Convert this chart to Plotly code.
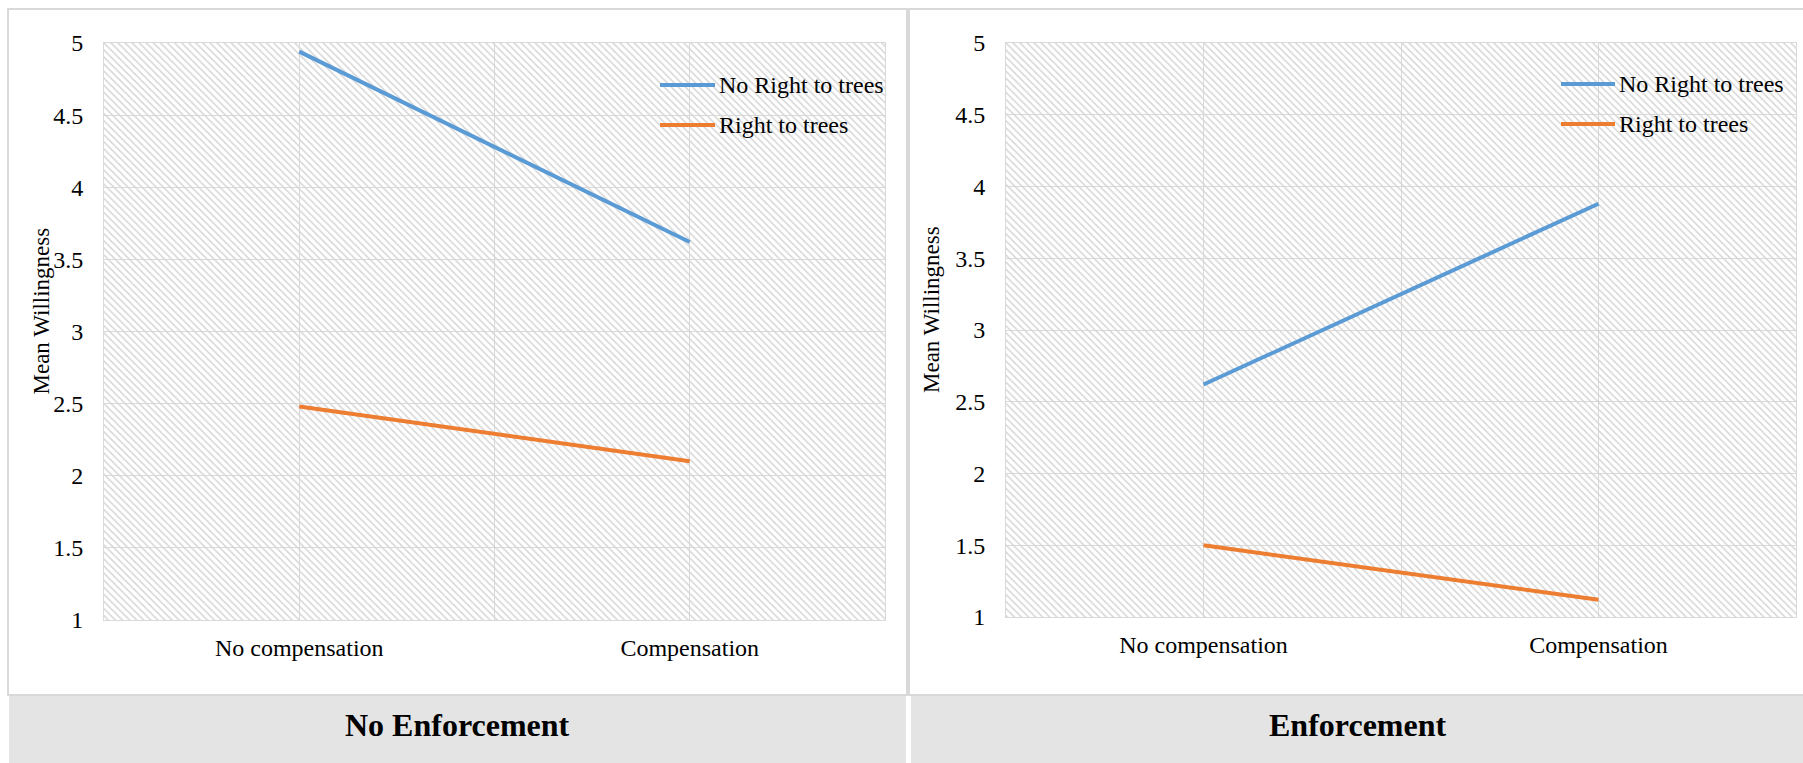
import plotly.graph_objects as go

W, H = 1803, 763

# ---- data -------------------------------------------------------------
CATEGORIES = ["No compensation", "Compensation"]
SERIES = ["No Right to trees", "Right to trees"]
PANELS = ["No Enforcement", "Enforcement"]

NO_ENF_NO_RIGHT = [4.94, 3.62]
NO_ENF_RIGHT = [2.48, 2.10]
ENF_NO_RIGHT = [2.62, 3.88]
ENF_RIGHT = [1.50, 1.12]

Y_TICKS = [1, 1.5, 2, 2.5, 3, 3.5, 4, 4.5, 5]
Y_TITLE = "Mean Willingness"

PANEL_VALUES = [
    [NO_ENF_NO_RIGHT, NO_ENF_RIGHT],
    [ENF_NO_RIGHT, ENF_RIGHT],
]

# ---- style ------------------------------------------------------------
COLORS = ["#5B9BD5", "#ED7D31"]
FONT = "Liberation Serif"
GRID = "#d9d9d9"
BAND = "#e4e4e4"

# pixel boxes of the two plot areas and their surroundings
PLOTS = [dict(x0=104, x1=885, y0=43, y1=620), dict(x0=1006, x1=1796, y0=43, y1=617)]
FRAMES = [dict(x0=8, x1=907, y0=9, y1=695), dict(x0=909, x1=1812, y0=9, y1=695)]
BANDS = [dict(x0=9, x1=906, y0=696, y1=770), dict(x0=911, x1=1810, y0=696, y1=770)]
LEGENDS = [dict(x0=660, x1=715, rows=[85, 125]), dict(x0=1561, x1=1615, rows=[84, 124])]
YTITLE_X = [41, 931]
BAND_TEXT_Y = 725


def px(x):
    return x / W


def py(y):
    return 1 - y / H


X_RANGE = [-0.5, len(CATEGORIES) - 0.5]
Y_RANGE = [Y_TICKS[0], Y_TICKS[-1]]
X_POS = list(range(len(CATEGORIES)))
X_TICKVALS = [X_RANGE[0] + 0.5 * k for k in range(2 * len(CATEGORIES) + 1)]
X_TICKTEXT = [CATEGORIES[int(v)] if float(v).is_integer() and v >= 0 else "" for v in X_TICKVALS]

fig = go.Figure()
shapes = []
annotations = []

for p, values in enumerate(PANEL_VALUES):
    suffix = "" if p == 0 else str(p + 1)
    xa, ya = "x" + suffix, "y" + suffix

    # hatched plot-area background
    fig.add_trace(go.Scatter(
        x=[X_RANGE[0], X_RANGE[1], X_RANGE[1], X_RANGE[0], X_RANGE[0]],
        y=[Y_RANGE[0], Y_RANGE[0], Y_RANGE[1], Y_RANGE[1], Y_RANGE[0]],
        xaxis=xa, yaxis=ya,
        mode="lines", line=dict(width=0), fill="toself",
        fillcolor="rgba(0,0,0,0)",
        fillpattern=dict(shape="\\", fgcolor="#d6d6d6", bgcolor="rgba(0,0,0,0)",
                         size=5, solidity=0.3, fillmode="replace"),
        hoverinfo="skip", showlegend=False,
    ))

    for s, series_vals in enumerate(values):
        fig.add_trace(go.Scatter(
            x=X_POS, y=series_vals, xaxis=xa, yaxis=ya,
            mode="lines", name=SERIES[s],
            line=dict(color=COLORS[s], width=4),
            showlegend=False,
        ))

    box = PLOTS[p]
    axis_common = dict(showgrid=True, gridcolor=GRID, gridwidth=1,
                       showline=True, linecolor=GRID, linewidth=1, mirror=True,
                       zeroline=False, ticks="", automargin=False,
                       tickfont=dict(family=FONT, size=24, color="black"))
    fig.update_layout(**{
        "xaxis" + suffix: dict(domain=[px(box["x0"]), px(box["x1"])], anchor=ya,
                               range=X_RANGE, tickmode="array",
                               tickvals=X_TICKVALS, ticktext=X_TICKTEXT,
                               ticklabelstandoff=6, **axis_common),
        "yaxis" + suffix: dict(domain=[py(box["y1"]), py(box["y0"])], anchor=xa,
                               range=Y_RANGE, tickmode="array", tickvals=Y_TICKS,
                               ticklabelstandoff=15, **axis_common),
    })

    # panel frame and caption band
    f = FRAMES[p]
    shapes.append(dict(type="rect", xref="paper", yref="paper", layer="below",
                       x0=px(f["x0"]), x1=px(f["x1"]), y0=py(f["y1"]), y1=py(f["y0"]),
                       line=dict(color=GRID, width=2), fillcolor="white"))
    b = BANDS[p]
    shapes.append(dict(type="rect", xref="paper", yref="paper", layer="below",
                       x0=px(b["x0"]), x1=px(b["x1"]), y0=py(b["y1"]), y1=py(b["y0"]),
                       line=dict(width=0), fillcolor=BAND))
    annotations.append(dict(xref="paper", yref="paper",
                            x=px((b["x0"] + min(b["x1"], W)) / 2), y=py(BAND_TEXT_Y),
                            text="<b>%s</b>" % PANELS[p], showarrow=False,
                            xanchor="center", yanchor="middle",
                            font=dict(family=FONT, size=32, color="black")))

    # y-axis title
    annotations.append(dict(xref="paper", yref="paper",
                            x=px(YTITLE_X[p]), y=py((box["y0"] + box["y1"]) / 2 - 20),
                            text=Y_TITLE, textangle=-90, showarrow=False,
                            xanchor="center", yanchor="middle",
                            font=dict(family=FONT, size=23, color="black")))

    # legend entries
    lg = LEGENDS[p]
    for s, name in enumerate(SERIES):
        yrow = py(lg["rows"][s])
        shapes.append(dict(type="line", xref="paper", yref="paper",
                           x0=px(lg["x0"]), x1=px(lg["x1"]), y0=yrow, y1=yrow,
                           line=dict(color=COLORS[s], width=4)))
        annotations.append(dict(xref="paper", yref="paper",
                                x=px(lg["x1"] + 2), y=yrow, text=name,
                                showarrow=False, xanchor="left", yanchor="middle",
                                font=dict(family=FONT, size=24, color="black")))

fig.update_layout(
    width=W, height=H,
    margin=dict(l=0, r=0, t=0, b=0, autoexpand=False),
    paper_bgcolor="white", plot_bgcolor="white",
    shapes=shapes, annotations=annotations,
    showlegend=False,
    font=dict(family=FONT, color="black"),
)

fig.write_html("out.html")
